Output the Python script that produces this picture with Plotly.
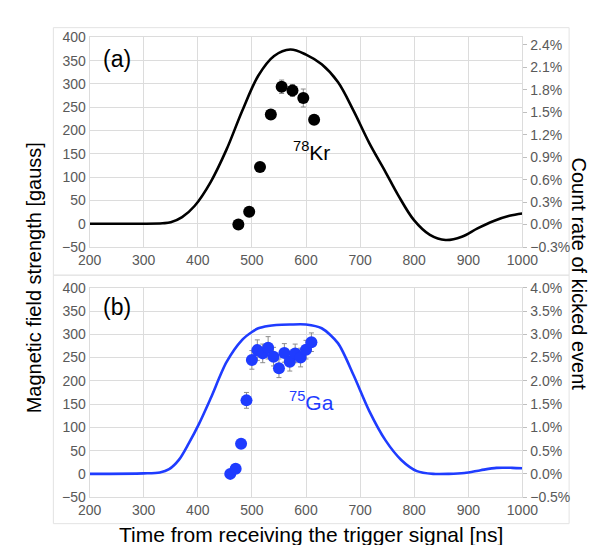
import plotly.graph_objects as go

# ---- data ----
# (a) 78Kr : magnetic field waveform [gauss] and kicked-event count rate [%]
kr_curve_t = [200, 250, 300, 335, 350, 371, 394, 424, 453, 482, 512, 541, 571, 600, 629,
              659, 688, 717, 747, 770, 800, 829, 858, 888, 917, 947, 976, 1000]
kr_curve_b = [0, 0, 0, 1, 3, 14, 38, 90, 159, 242, 318, 360, 374, 363, 342,
              304, 242, 173, 111, 62, 7, -24, -35, -28, -10, 6, 17, 22]
kr_t = [475, 495, 515, 535, 555, 575, 595, 615]
kr_rate = [0.0, 0.17, 0.77, 1.47, 1.84, 1.79, 1.69, 1.40]
kr_err = [0.02, 0.03, 0.04, 0.06, 0.09, 0.08, 0.12, 0.06]

# (b) 75Ga
ga_curve_t = [200, 300, 330, 347, 365, 383, 402, 424, 453, 482, 500, 512, 530, 545, 570, 600, 629,
              659, 688, 717, 747, 776, 805, 835, 864, 893, 923, 952, 981, 1000]
ga_curve_b = [0, 1, 3, 10, 30, 65, 107, 163, 240, 288, 305, 313, 318, 320, 321, 321, 313,
              281, 212, 135, 72, 30, 6, 0, 0, 2, 8, 13, 13, 12]
ga_t = [460, 470, 480, 490, 500, 510, 520, 530, 540, 550, 560, 570, 580, 590, 600, 610]
ga_rate = [0.0, 0.11, 0.65, 1.58, 2.45, 2.66, 2.59, 2.71, 2.52, 2.27, 2.60, 2.41, 2.59, 2.50, 2.67, 2.83]
ga_err = [0.02, 0.03, 0.06, 0.17, 0.2, 0.22, 0.2, 0.24, 0.2, 0.2, 0.2, 0.2, 0.2, 0.2, 0.2, 0.2]

x_ticks = [200, 300, 400, 500, 600, 700, 800, 900, 1000]
b_ticks = [-50, 0, 50, 100, 150, 200, 250, 300, 350, 400]

W, H = 600, 545
def px(x): return x / W
def py(y): return 1 - y / H

BLACK = "#000000"
BLUE = "#1f3cff"
GRID = "#dcdcdc"
TICKC = "#595959"
FONT = "Liberation Sans, Arial, sans-serif"

fig = go.Figure()

fig.add_trace(go.Scatter(x=kr_curve_t, y=kr_curve_b, mode="lines", line=dict(color=BLACK, width=2.6, shape="spline", smoothing=1.0),
                         xaxis="x", yaxis="y", showlegend=False))
fig.add_trace(go.Scatter(x=kr_t, y=kr_rate, mode="markers", marker=dict(color=BLACK, size=12),
                         error_y=dict(type="data", array=kr_err, color="#8c8c8c", thickness=1, width=2.5),
                         xaxis="x", yaxis="y2", showlegend=False))
fig.add_trace(go.Scatter(x=ga_curve_t, y=ga_curve_b, mode="lines", line=dict(color=BLUE, width=2.6, shape="spline", smoothing=0.8),
                         xaxis="x2", yaxis="y3", showlegend=False))
fig.add_trace(go.Scatter(x=ga_t, y=ga_rate, mode="markers", marker=dict(color=BLUE, size=12),
                         error_y=dict(type="data", array=ga_err, color="#8c8c8c", thickness=1, width=2.5),
                         xaxis="x2", yaxis="y4", showlegend=False))

xdom = [px(73), px(527)]
top_dom = [py(238), py(22)]
bot_dom = [py(495.7), py(280)]

xax = dict(range=[200, 1000], tickvals=x_ticks, showgrid=True, gridcolor=GRID, gridwidth=1,
           showline=True, linecolor=GRID, mirror=True, ticks="", zeroline=False,
           tickfont=dict(size=14, color=TICKC, family=FONT), domain=xdom)
yleft = dict(range=[-50, 400], tickvals=b_ticks, showgrid=True, gridcolor=GRID, gridwidth=1,
             showline=True, linecolor=GRID, mirror=True, ticks="", zeroline=False,
             tickfont=dict(size=14, color=TICKC, family=FONT))
yright = dict(side="right", showgrid=False, zeroline=False, ticks="outside", ticklen=4, tickcolor="#bfbfbf",
              showline=False, ticksuffix="%", tickformat=".1f",
              tickfont=dict(size=14, color=TICKC, family=FONT))

fig.update_layout(
    width=W, height=H, margin=dict(l=0, r=0, t=0, b=0),
    paper_bgcolor="white", plot_bgcolor="white",
    font=dict(family=FONT, color=BLACK),
    xaxis=dict(**xax, anchor="y"),
    xaxis2=dict(**xax, anchor="y3"),
    yaxis=dict(**yleft, domain=top_dom, anchor="x"),
    yaxis2=dict(**yright, range=[-0.3, 2.5], dtick=0.3, tick0=0, overlaying="y", anchor="x"),
    yaxis3=dict(**yleft, domain=bot_dom, anchor="x2"),
    yaxis4=dict(**yright, range=[-0.5, 4.0], dtick=0.5, tick0=0, overlaying="y3", anchor="x2"),
)

# panel frames
for y0, y1 in [(12, 267), (267, 523)]:
    fig.add_shape(type="rect", xref="paper", yref="paper", x0=px(35), x1=px(576), y0=py(y1), y1=py(y0),
                  line=dict(color="#e3e3e3", width=1), fillcolor="rgba(0,0,0,0)", layer="below")

ann = [
    dict(text="(a)", x=250.6, y=353, xref="x", yref="y", font=dict(size=23, color=BLACK)),
    dict(text="(b)", x=250.6, y=358, xref="x2", yref="y3", font=dict(size=23, color=BLACK)),
    dict(text="<sup>78</sup>Kr", x=610, y=156, xref="x", yref="y", font=dict(size=21, color=BLACK)),
    dict(text="<sup>75</sup>Ga", x=610, y=157, xref="x2", yref="y3", font=dict(size=21, color=BLUE)),
    dict(text="Magnetic field strength [gauss]", x=px(15), y=py(270), xref="paper", yref="paper",
         textangle=-90, font=dict(size=20, color=BLACK)),
    dict(text="Count rate of kicked event", x=px(586), y=py(266), xref="paper", yref="paper",
         textangle=90, font=dict(size=20, color=BLACK)),
    dict(text="Time from receiving the trigger signal [ns]", x=px(305), y=py(534), xref="paper", yref="paper",
         font=dict(size=21, color=BLACK)),
]
for a in ann:
    fig.add_annotation(showarrow=False, xanchor="center", yanchor="middle", **a)

fig.write_html("out.html")
